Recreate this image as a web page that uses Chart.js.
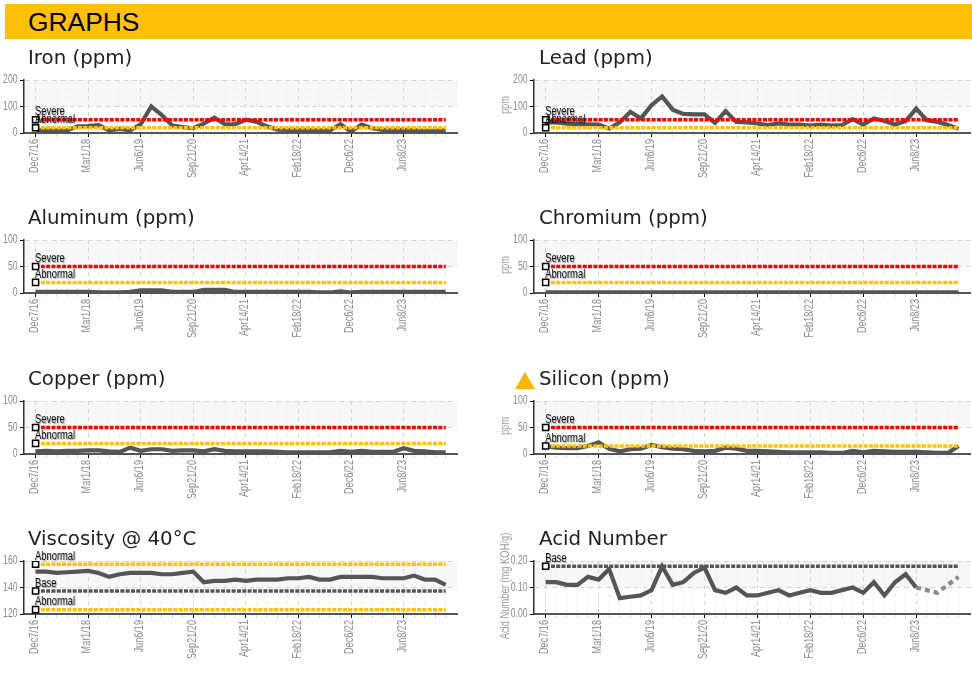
<!DOCTYPE html>
<html lang="en">
<head>
  <meta charset="UTF-8">
  <title>Graphs</title>
  <script src="https://cdn.jsdelivr.net/npm/chart.js"></script>
  <style>
    html, body {
      margin: 0;
      padding: 0;
      background: #fff;
      overflow: hidden;
    }
    body {
      width: 972px;
      height: 683px;
      position: relative;
      filter: blur(0.35px);
    }
    .header {
      position: absolute;
      left: 5px;
      top: 4px;
      width: 967px;
      height: 35px;
      line-height: 37px;
      background: #ffc107;
      color: #000;
      font-family: 'Liberation Sans', Arial, sans-serif;
      font-size: 26.4px;
      text-indent: 23px;
    }
    .title {
      position: absolute;
      font-family: 'DejaVu Sans', sans-serif;
      font-size: 19.8px;
      line-height: 24px;
      color: #222;
      white-space: nowrap;
      z-index: 2;
    }
    .warn {
      position: absolute;
      left: 515px;
      top: 372px;
      width: 0;
      height: 0;
      border-left: 10px solid transparent;
      border-right: 10px solid transparent;
      border-bottom: 17px solid #ffb300;
      z-index: 2;
    }
    canvas {
      position: absolute;
    }
  </style>
</head>
<body>

  <div class="header">GRAPHS</div>
  <div class="warn"></div>

  <script>
    const tickLabels = ['Dec7/16', 'Mar1/18', 'Jun6/19', 'Sep21/20', 'Apr14/21', 'Feb18/22', 'Dec6/22', 'Jun8/23'];

    const ironValues = [10, 10, 10, 10, 25, 26, 30, 10, 15, 10, 33, 100, 68, 28, 22, 18, 35, 58, 33, 33, 50, 42, 25, 13, 12, 12, 12, 10, 10, 33, 5, 32, 18, 12, 12, 12, 10, 8, 8, 10];
    const leadValues = [40, 40, 35, 33, 33, 32, 17, 40, 80, 55, 105, 138, 88, 72, 70, 70, 38, 83, 42, 40, 36, 30, 36, 32, 32, 28, 32, 28, 30, 52, 32, 55, 45, 32, 45, 92, 48, 42, 30, 16];
    const aluminumValues = [2, 2, 2, 2, 2, 2, 1, 1, 1, 2, 5, 5, 5, 2, 2, 2, 6, 6, 6, 2, 2, 2, 2, 2, 2, 2, 2, 1, 1, 3, 1, 2, 2, 2, 2, 2, 2, 2, 2, 2];
    const chromiumValues = [1, 1, 1, 1, 1, 1, 1, 1, 1, 1, 1, 1, 1, 1, 1, 1, 1, 1, 1, 1, 1, 1, 1, 1, 1, 1, 1, 1, 1, 1, 1, 1, 1, 1, 1, 1, 1, 1, 1, 1];
    const copperValues = [5, 6, 5, 6, 6, 7, 7, 5, 4, 12, 6, 9, 9, 6, 7, 7, 5, 9, 6, 5, 5, 5, 5, 4, 3, 3, 3, 3, 3, 6, 4, 6, 4, 4, 4, 11, 6, 5, 3, 3];
    const siliconValues = [15, 12, 11, 11, 15, 22, 10, 5, 9, 10, 17, 13, 10, 9, 6, 5, 6, 12, 10, 6, 6, 5, 4, 3, 3, 3, 3, 2, 2, 6, 3, 6, 5, 4, 4, 4, 3, 2, 2, 15];
    const viscosityValues = [152, 152, 151, 151.5, 152, 152.5, 151, 148, 150, 151, 151, 151, 150, 150, 151, 152, 144, 145, 145, 146, 145, 146, 146, 146, 147, 147, 148, 146, 146, 148, 148, 148, 148, 147, 147, 147, 149, 146, 146, 142];
    const acidValues = [0.12, 0.12, 0.11, 0.11, 0.14, 0.13, 0.17, 0.06, 0.065, 0.07, 0.09, 0.18, 0.11, 0.12, 0.155, 0.175, 0.09, 0.08, 0.10, 0.07, 0.07, 0.08, 0.09, 0.07, 0.08, 0.09, 0.08, 0.08, 0.09, 0.10, 0.08, 0.12, 0.07, 0.12, 0.15, 0.10, 0.09, 0.08, 0.11, 0.14];

    const severe = ['Severe', 50, '#ff0000'];
    const abnormal = ['Abnormal', 20, '#ffc107'];
    const siliconAbnormal = ['Abnormal', 15, '#ffc107'];
    const viscosityLimits = [['Abnormal', 157.5, '#ffc107'], ['Base', 137.3, '#555555'], ['Abnormal', 123.3, '#ffc107']];
    const acidLimits = [['Base', 0.18, '#555555']];

    // first acid point of the dashed (projected) stretch
    const acidDashedFrom = 35;

    const FONT = "'Liberation Sans', sans-serif";

    // no narrow font on the box, so squeeze the text through fillText's maxWidth
    function narrowText(ctx, text, x, y, ratio) {
      ctx.fillText(text, x, y, ctx.measureText(text).width * ratio);
    }

    // grey band over the top half of the plot
    const bandPlugin = {
      id: 'band',
      beforeDraw(chart) {
        const { ctx, chartArea, scales } = chart;
        const mid = scales.y.getPixelForValue((scales.y.min + scales.y.max) / 2);
        ctx.save();
        ctx.fillStyle = '#f7f7f7';
        ctx.fillRect(chartArea.left, chartArea.top, chartArea.width, mid - chartArea.top);
        ctx.restore();
      }
    };

    // axis labels, placed from the chart's own scales
    const axisTextPlugin = {
      id: 'axisText',
      afterDraw(chart, args, opts) {
        const { ctx, scales, chartArea } = chart;
        ctx.save();
        ctx.fillStyle = '#8a8a8a';
        ctx.font = '12px ' + FONT;
        ctx.textBaseline = 'middle';

        ctx.textAlign = 'right';
        scales.y.ticks.forEach(t => {
          const text = opts.decimals ? t.value.toFixed(opts.decimals) : String(t.value);
          narrowText(ctx, text, chartArea.left - 6.5, scales.y.getPixelForValue(t.value), 0.72);
        });

        tickLabels.forEach((text, i) => {
          ctx.save();
          ctx.translate(scales.x.getPixelForValue(i * 5) - 1, chartArea.bottom + 6);
          ctx.rotate(-Math.PI / 2);
          narrowText(ctx, text, 0, 0, 0.76);
          ctx.restore();
        });

        if (opts.yTitle) {
          ctx.save();
          ctx.fillStyle = '#999';
          ctx.textAlign = 'center';
          ctx.translate(7.5, (chartArea.top + chartArea.bottom) / 2 - 1.5);
          ctx.rotate(-Math.PI / 2);
          narrowText(ctx, opts.yTitle, 0, 0, 0.78);
          ctx.restore();
        }
        ctx.restore();
      }
    };

    // limit name written just above its square marker
    const limitLabelPlugin = {
      id: 'limitLabels',
      afterDatasetsDraw(chart) {
        const { ctx, scales } = chart;
        ctx.save();
        ctx.font = '12px ' + FONT;
        ctx.fillStyle = '#111';
        ctx.shadowColor = 'rgba(0,0,0,0.35)';
        ctx.shadowOffsetX = 1;
        ctx.shadowOffsetY = 1;
        ctx.shadowBlur = 1;
        ctx.textBaseline = 'alphabetic';
        chart.data.datasets.forEach(ds => {
          if (!ds.isLimit) return;
          narrowText(ctx, ds.label, scales.x.getPixelForValue(0) - 0.5, scales.y.getPixelForValue(ds.data[0].y) - 4.5, 0.78);
        });
        ctx.restore();
      }
    };

    function addChart(col, plotTop, title, values, limits, yMax, yMin, yStep, yTitle, decimals) {
      const left = col === 0 ? 0 : 498;
      const width = col === 0 ? 463 : 478;
      const axisWidth = col === 0 ? 24 : 36;

      const label = document.createElement('div');
      label.className = 'title';
      label.textContent = title;
      label.style.left = (col === 0 ? 28 : 539) + 'px';
      label.style.top = (plotTop - 34) + 'px';
      document.body.appendChild(label);

      const canvas = document.createElement('canvas');
      canvas.width = width;
      canvas.height = 150;
      canvas.style.left = left + 'px';
      canvas.style.top = (plotTop - 36) + 'px';
      document.body.appendChild(canvas);

      const datasets = limits.map(limit => ({
        label: limit[0],
        isLimit: true,
        data: values.map((v, i) => ({ x: i, y: limit[1] })),
        borderColor: limit[2],
        borderWidth: 3.5,
        borderDash: [4, 1.3],
        pointRadius: ctx => ctx.dataIndex === 0 ? 4.3 : 0,
        pointStyle: 'rect',
        pointBackgroundColor: '#fff',
        pointBorderColor: '#000',
        pointBorderWidth: 1.5,
        order: 1
      }));
      datasets.push({
        label: title,
        data: values.map((v, i) => ({ x: i, y: v })),
        borderColor: '#555',
        borderWidth: 4.2,
        pointRadius: 0,
        tension: 0,
        order: 2,
        segment: title === 'Acid Number' ? {
          borderColor: ctx => ctx.p0DataIndex >= acidDashedFrom ? '#8a8a8a' : undefined,
          borderDash: ctx => ctx.p0DataIndex >= acidDashedFrom ? [5, 4] : undefined
        } : undefined
      });

      new Chart(canvas.getContext('2d'), {
        type: 'line',
        data: { datasets },
        plugins: [bandPlugin, limitLabelPlugin, axisTextPlugin],
        options: {
          responsive: false,
          animation: false,
          layout: { padding: { top: 36, right: col === 0 ? 3 : 2, left: 0, bottom: 0 } },
          plugins: {
            legend: { display: false },
            tooltip: { enabled: false },
            axisText: { yTitle, decimals }
          },
          scales: {
            x: {
              type: 'linear',
              min: -1.1,
              max: 40.1,
              afterBuildTicks(scale) {
                scale.ticks = values.map((v, i) => ({ value: i }));
              },
              afterFit(scale) { scale.height = 61; },
              border: { color: '#555', width: 2, dash: [4, 4] },
              grid: {
                color: ctx => ctx.index % 5 === 0 ? '#d4d4d4' : '#eeeeee',
                lineWidth: 1,
                tickLength: 4,
                tickColor: ctx => ctx.index % 5 === 0 ? '#000' : '#dddddd',
                tickBorderDash: []
              },
              ticks: { display: false, autoSkip: false }
            },
            y: {
              min: yMin,
              max: yMax,
              afterFit(scale) { scale.width = axisWidth; },
              border: { color: '#333', width: 1.5, dash: [5, 4] },
              grid: { color: '#d4d4d4', lineWidth: 1, tickLength: 4, tickColor: '#000', tickBorderDash: [] },
              ticks: { display: false, stepSize: yStep }
            }
          }
        }
      });
    }

    addChart(0, 80, 'Iron (ppm)', ironValues, [severe, abnormal], 200, 0, 100);
    addChart(1, 80, 'Lead (ppm)', leadValues, [severe, abnormal], 200, 0, 100, 'ppm');
    addChart(0, 240, 'Aluminum (ppm)', aluminumValues, [severe, abnormal], 100, 0, 50);
    addChart(1, 240, 'Chromium (ppm)', chromiumValues, [severe, abnormal], 100, 0, 50, 'ppm');
    addChart(0, 400.5, 'Copper (ppm)', copperValues, [severe, abnormal], 100, 0, 50);
    addChart(1, 400.5, 'Silicon (ppm)', siliconValues, [severe, siliconAbnormal], 100, 0, 50, 'ppm');
    addChart(0, 560.5, 'Viscosity @ 40\u00b0C', viscosityValues, viscosityLimits, 160, 120, 20);
    addChart(1, 560.5, 'Acid Number', acidValues, acidLimits, 0.2, 0, 0.1, 'Acid Number (mg KOH/g)', 2);
  </script>

</body>
</html>
